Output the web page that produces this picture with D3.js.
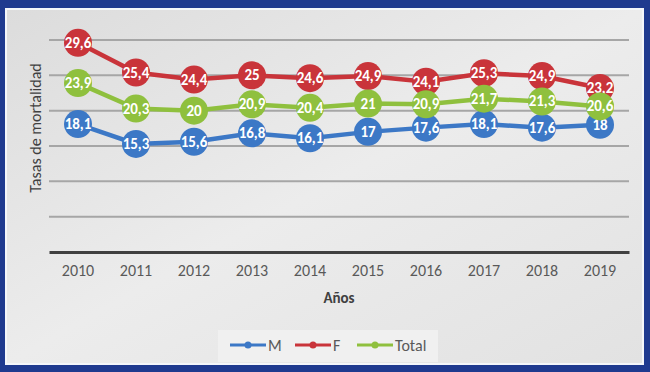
<!DOCTYPE html>
<html>
<head>
<meta charset="utf-8">
<script src="https://cdn.jsdelivr.net/npm/d3@7"></script>
<style>
  body { margin: 0; background: #fff; }
  svg { display: block; font-family: Calibri, Carlito, "Liberation Sans", Arial, sans-serif; }
</style>
</head>
<body>
<svg id="chart"></svg>
<script>
// data
const years = ["2010", "2011", "2012", "2013", "2014", "2015", "2016", "2017", "2018", "2019"];
const valuesM = [18.1, 15.3, 15.6, 16.8, 16.1, 17, 17.6, 18.1, 17.6, 18];
const valuesF = [29.6, 25.4, 24.4, 25, 24.6, 24.9, 24.1, 25.3, 24.9, 23.2];
const valuesTotal = [23.9, 20.3, 20, 20.9, 20.4, 21, 20.9, 21.7, 21.3, 20.6];
const yTicks = [0, 5, 10, 15, 20, 25, 30];

const seriesNames = ["M", "F", "Total"];
const seriesColors = {M: "#3c78c6", F: "#c9343a", Total: "#8fc03e"};

const width = 650, height = 372;
const margin = {top: 40, right: 21, bottom: 120, left: 49};
const innerW = width - margin.left - margin.right;
const innerH = height - margin.top - margin.bottom;

const svg = d3.select("#chart")
    .attr("width", width)
    .attr("height", height);

// background + frame
const defs = svg.append("defs");
const grad = defs.append("linearGradient")
    .attr("id", "bg")
    .attr("x1", "0").attr("y1", "0").attr("x2", "1").attr("y2", "1");
grad.append("stop").attr("offset", "0%").attr("stop-color", "#dcdcdc");
grad.append("stop").attr("offset", "50%").attr("stop-color", "#ececec");
grad.append("stop").attr("offset", "100%").attr("stop-color", "#e2e2e2");

svg.append("rect")
    .attr("width", width).attr("height", height)
    .attr("fill", "#1f3a8f");
svg.append("rect")
    .attr("x", 5).attr("y", 8)
    .attr("width", width - 11).attr("height", height - 15)
    .attr("fill", "#f4f6fa");
svg.append("rect")
    .attr("x", 7).attr("y", 10)
    .attr("width", width - 15).attr("height", height - 19)
    .attr("fill", "url(#bg)");

const g = svg.append("g")
    .attr("transform", `translate(${margin.left},${margin.top})`);

const xScale = d3.scaleBand()
    .domain(years)
    .range([0, innerW]);

const yScale = d3.scaleLinear()
    .domain([0, 30])
    .range([innerH, 0]);

// gridlines
g.append("g")
    .selectAll("line")
    .data(yTicks.filter(d => d > 0))
    .join("line")
    .attr("x1", 0).attr("x2", innerW)
    .attr("y1", d => yScale(d)).attr("y2", d => yScale(d))
    .attr("stroke", "#a6a6a6")
    .attr("stroke-width", 2);

// x axis
const xAxis = d3.axisBottom(xScale).tickSize(0).tickPadding(13);
const xAxisG = g.append("g")
    .attr("transform", `translate(0,${innerH})`)
    .call(xAxis);
xAxisG.select(".domain")
    .attr("stroke", "#404040")
    .attr("stroke-width", 3);
xAxisG.selectAll("text")
    .attr("fill", "#595959")
    .attr("font-size", 16)
    .attr("font-family", "Calibri, Carlito, 'Liberation Sans', Arial, sans-serif");

// axis titles
svg.append("text")
    .attr("x", margin.left + innerW / 2)
    .attr("y", 303)
    .attr("text-anchor", "middle")
    .attr("font-size", 15)
    .attr("font-weight", "bold")
    .attr("fill", "#404040")
    .text("Años");

svg.append("text")
    .attr("transform", `translate(41,128) rotate(-90)`)
    .attr("text-anchor", "middle")
    .attr("font-size", 16)
    .attr("fill", "#404040")
    .text("Tasas de mortalidad");

// series
const series = [
    {name: "M", values: valuesM},
    {name: "F", values: valuesF},
    {name: "Total", values: valuesTotal}
];

const line = d3.line()
    .x((d, i) => xScale(years[i]) + xScale.bandwidth() / 2)
    .y(d => yScale(d));

const fmt = v => String(v).replace(".", ",");

series.forEach(s => {
    const sg = g.append("g");
    sg.append("path")
        .datum(s.values)
        .attr("d", line)
        .attr("fill", "none")
        .attr("stroke", seriesColors[s.name])
        .attr("stroke-width", 4.5);
    sg.selectAll("circle")
        .data(s.values)
        .join("circle")
        .attr("cx", (d, i) => xScale(years[i]) + xScale.bandwidth() / 2)
        .attr("cy", d => yScale(d))
        .attr("r", 14)
        .attr("fill", seriesColors[s.name]);
    sg.selectAll("text")
        .data(s.values)
        .join("text")
        .attr("x", (d, i) => xScale(years[i]) + xScale.bandwidth() / 2)
        .attr("y", d => yScale(d) + 5)
        .attr("text-anchor", "middle")
        .attr("font-size", 15)
        .attr("font-weight", "bold")
        .attr("fill", "#ffffff")
        .text(d => fmt(d));
});

// legend
const legend = svg.append("g");
legend.append("rect")
    .attr("x", 218).attr("y", 330)
    .attr("width", 220).attr("height", 32)
    .attr("fill", "#f0f0f0");

const legendX = [230, 295, 357];
seriesNames.forEach((name, i) => {
    const lx = legendX[i];
    legend.append("line")
        .attr("x1", lx).attr("x2", lx + 36)
        .attr("y1", 345).attr("y2", 345)
        .attr("stroke", seriesColors[name])
        .attr("stroke-width", 3);
    legend.append("circle")
        .attr("cx", lx + 18).attr("cy", 345)
        .attr("r", 3.5)
        .attr("fill", seriesColors[name]);
    legend.append("text")
        .attr("x", lx + 38).attr("y", 351)
        .attr("font-size", 16)
        .attr("fill", "#595959")
        .text(name);
});
</script>
</body>
</html>
